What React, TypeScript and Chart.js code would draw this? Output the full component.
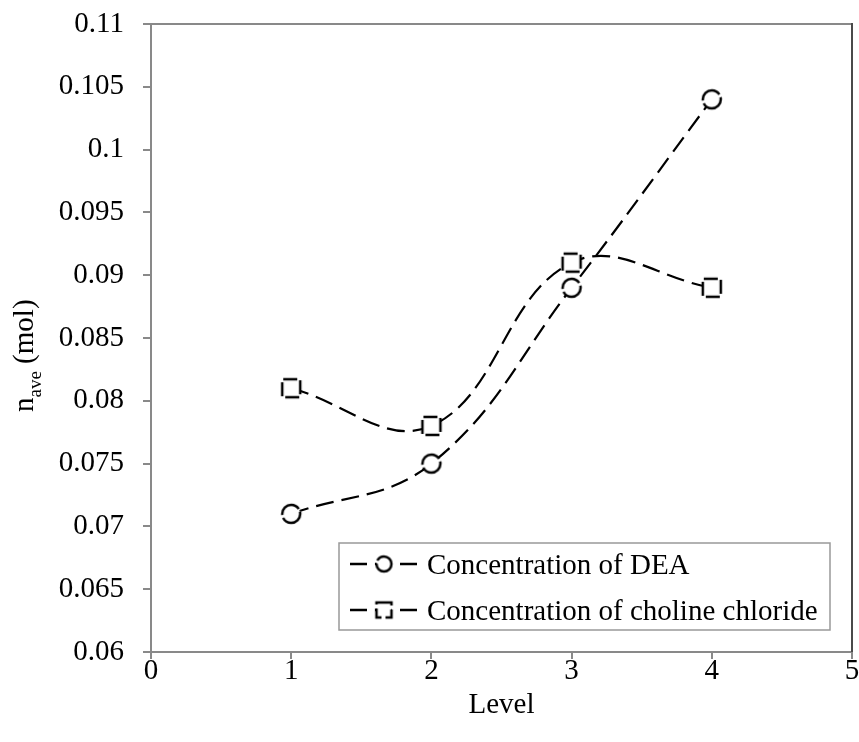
import React, { useEffect, useRef } from 'react';
import { Chart, registerables } from 'chart.js';

Chart.register(...registerables);

const levels = [1, 2, 3, 4];
const deaValues = [0.071, 0.075, 0.089, 0.104];
const cholineValues = [0.081, 0.078, 0.091, 0.089];
const xTickValues = [0, 1, 2, 3, 4, 5];
const yTickLabels = ['0.06', '0.065', '0.07', '0.075', '0.08', '0.085', '0.09', '0.095', '0.1', '0.105', '0.11'];
const seriesNames = ['Concentration of DEA', 'Concentration of choline chloride'];
const xTitle = 'Level';
const yTitleMain = 'n';
const yTitleSub = 'ave';
const yTitleRest = ' (mol)';

const FONT = '"Liberation Serif", "Times New Roman", serif';
const FS = 29;
const AXIS = '#898989';

function makeMarker(kind: string, size: number, lw: number): HTMLCanvasElement {
  const c = document.createElement('canvas');
  const s = size + 6;
  c.width = s;
  c.height = s;
  const ctx = c.getContext('2d')!;
  ctx.lineWidth = lw;
  ctx.strokeStyle = '#000';
  ctx.fillStyle = '#fff';
  const m = s / 2;
  ctx.beginPath();
  if (kind === 'circle') {
    ctx.arc(m, m, size / 2, 0, Math.PI * 2);
    ctx.fill();
    ctx.setLineDash([24, 3]);
    ctx.stroke();
  } else {
    ctx.rect(m - size / 2, m - size / 2, size, size);
    ctx.fill();
    ctx.beginPath();
    ctx.setLineDash([14, 4]);
    ctx.moveTo(m + size / 2 - 3, m - size / 2);
    ctx.lineTo(m - size / 2, m - size / 2);
    ctx.lineTo(m - size / 2, m + size / 2);
    ctx.lineTo(m + size / 2, m + size / 2);
    ctx.lineTo(m + size / 2, m - size / 2);
    ctx.lineTo(m + size / 2 - 3, m - size / 2);
    ctx.stroke();
  }
  return c;
}

function noPadding(this: any) {
  this.paddingLeft = 0;
  this.paddingRight = 0;
  this.paddingTop = 0;
  this.paddingBottom = 0;
}

export default function App() {
  const ref = useRef<HTMLCanvasElement | null>(null);

  useEffect(() => {
    document.body.style.margin = '0';
    const canvas = ref.current!;
    const circle = makeMarker('circle', 18, 2.5);
    const square = makeMarker('rect', 18, 2.5);
    const circleSmall = makeMarker('circle', 15, 2.5);
    const squareSmall = makeMarker('rect', 15, 2.5);

    const framePlugin = {
      id: 'frame',
      afterDraw(chart: any) {
        const { ctx, chartArea: a } = chart;
        ctx.save();
        ctx.lineWidth = 2;
        ctx.strokeStyle = AXIS;
        ctx.beginPath();
        ctx.moveTo(a.left, a.top);
        ctx.lineTo(a.right, a.top);
        ctx.stroke();
        ctx.strokeStyle = '#4a4a4a';
        ctx.beginPath();
        ctx.moveTo(a.right, a.top - 1);
        ctx.lineTo(a.right, a.bottom);
        ctx.stroke();

        // y title with subscript
        ctx.translate(33, 412);
        ctx.rotate(-Math.PI / 2);
        ctx.fillStyle = '#000';
        ctx.textBaseline = 'alphabetic';
        ctx.textAlign = 'left';
        ctx.font = `${FS}px ${FONT}`;
        ctx.fillText(yTitleMain, 0, 0);
        let w = ctx.measureText(yTitleMain).width;
        ctx.font = `19px ${FONT}`;
        ctx.fillText(yTitleSub, w, 8);
        w += ctx.measureText(yTitleSub).width;
        ctx.font = `${FS}px ${FONT}`;
        ctx.fillText(yTitleRest, w, 0);
        ctx.restore();

        // legend
        ctx.save();
        const bx = 339, by = 543, bw = 491, bh = 87;
        ctx.fillStyle = '#fff';
        ctx.fillRect(bx, by, bw, bh);
        ctx.strokeStyle = '#999';
        ctx.lineWidth = 1.5;
        ctx.strokeRect(bx, by, bw, bh);
        const rows = [564, 610];
        const marks = [circleSmall, squareSmall];
        rows.forEach((ry, i) => {
          ctx.strokeStyle = '#000';
          ctx.lineWidth = 2.5;
          ctx.setLineDash([17, 8]);
          ctx.beginPath();
          ctx.moveTo(350, ry);
          ctx.lineTo(418, ry);
          ctx.stroke();
          ctx.setLineDash([]);
          const m = marks[i];
          ctx.drawImage(m, 384 - m.width / 2, ry - m.height / 2);
          ctx.fillStyle = '#000';
          ctx.font = `${FS}px ${FONT}`;
          ctx.textBaseline = 'middle';
          ctx.textAlign = 'left';
          ctx.fillText(seriesNames[i], 427, ry + 2);
        });
        ctx.restore();
      },
    };

    const chart = new Chart(canvas, {
      type: 'line',
      data: {
        datasets: [
          {
            label: seriesNames[0],
            data: levels.map((x, i) => ({ x, y: deaValues[i] })),
            borderColor: '#000',
            borderWidth: 2.2,
            borderDash: [18, 8],
            tension: 0.4,
            pointStyle: circle,
            pointRadius: 10,
            fill: false,
          },
          {
            label: seriesNames[1],
            data: levels.map((x, i) => ({ x, y: cholineValues[i] })),
            borderColor: '#000',
            borderWidth: 2.2,
            borderDash: [18, 8],
            tension: 0.4,
            pointStyle: square,
            pointRadius: 10,
            fill: false,
          },
        ],
      },
      options: {
        animation: false,
        responsive: false,
        layout: { autoPadding: false, padding: { top: 24, right: 7, left: 0, bottom: 0 } },
        plugins: { legend: { display: false }, tooltip: { enabled: false } },
        scales: {
          x: {
            type: 'linear',
            min: 0,
            max: 5,
            afterBuildTicks: (s: any) => {
              s.ticks = xTickValues.map((v) => ({ value: v }));
            },
            beforeFit: (s: any) => {
              s._calculatePadding = noPadding;
            },
            afterFit: (s: any) => {
              s.height = 90;
            },
            ticks: {
              color: '#000',
              font: { family: FONT, size: FS },
              padding: -5,
              callback: (v: any) => String(v),
            },
            grid: { drawOnChartArea: false, drawTicks: true, tickLength: 7, color: AXIS, lineWidth: 2 },
            border: { color: AXIS, width: 2 },
            title: {
              display: true,
              text: xTitle,
              color: '#000',
              font: { family: FONT, size: FS },
              padding: { top: 0, bottom: 19 },
            },
          },
          y: {
            type: 'linear',
            min: 0.06,
            max: 0.11,
            afterBuildTicks: (s: any) => {
              s.ticks = yTickLabels.map((l) => ({ value: Number(l) }));
            },
            beforeFit: (s: any) => {
              s._calculatePadding = noPadding;
            },
            afterFit: (s: any) => {
              s.width = 151;
            },
            ticks: {
              color: '#000',
              font: { family: FONT, size: FS },
              padding: 19,
              callback: (_v: any, i: number) => yTickLabels[i],
            },
            grid: { drawOnChartArea: false, drawTicks: true, tickLength: 8, color: AXIS, lineWidth: 2 },
            border: { color: AXIS, width: 2 },
          },
        },
      },
      plugins: [framePlugin],
    });
    return () => chart.destroy();
  }, []);

  return <canvas ref={ref} width={859} height={742} style={{ display: 'block', width: 859, height: 742 }} />;
}
